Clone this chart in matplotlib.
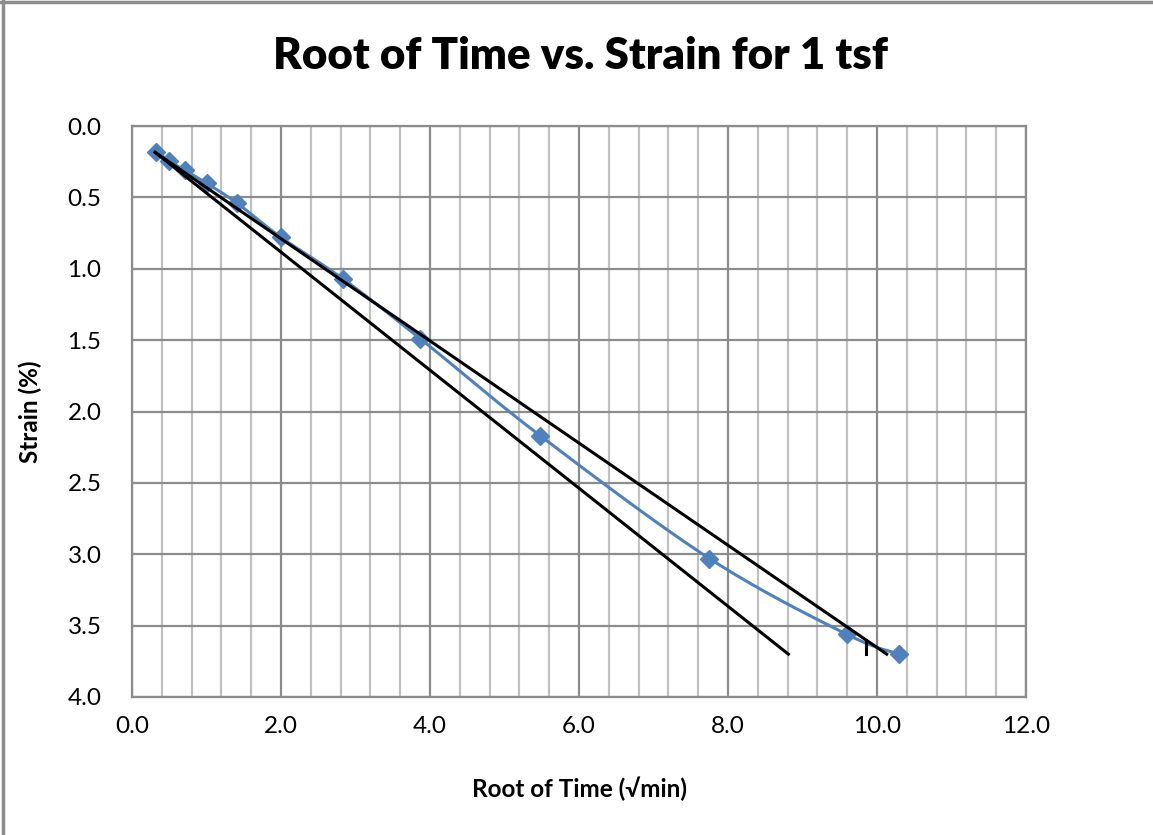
import numpy as np
import matplotlib
matplotlib.use('Agg')
import matplotlib.pyplot as plt
from matplotlib.lines import Line2D

plt.rcParams['font.family'] = ['Lato', 'DejaVu Sans']

# 数据：时间平方根 vs 应变
root_time = [0.32, 0.50, 0.71, 1.00, 1.41, 2.00, 2.83, 3.87, 5.48, 7.75, 9.59, 10.30]
strain = [0.18, 0.245, 0.31, 0.40, 0.54, 0.78, 1.07, 1.49, 2.17, 3.03, 3.56, 3.70]

# 两条切线（Taylor 法）
line1_x = [0.31, 8.81]
line1_y = [0.184, 3.70]
line2_x = [0.31, 10.13]
line2_y = [0.184, 3.70]
tick_x = [9.85, 9.85]
tick_y = [3.60, 3.70]


def smooth_curve(x, y, n=20):
    """Catmull-Rom 平滑（类似 Excel 的平滑线）"""
    pts = np.column_stack([x, y])
    p = np.vstack([pts[0], pts, pts[-1]])
    out = []
    for i in range(1, len(p) - 2):
        p0, p1, p2, p3 = p[i - 1], p[i], p[i + 1], p[i + 2]
        t = np.linspace(0, 1, n)[:, None]
        seg = 0.5 * ((2 * p1) + (-p0 + p2) * t
                     + (2 * p0 - 5 * p1 + 4 * p2 - p3) * t ** 2
                     + (-p0 + 3 * p1 - 3 * p2 + p3) * t ** 3)
        out.append(seg)
    out = np.vstack(out)
    return out[:, 0], out[:, 1]


fig = plt.figure(figsize=(11.53, 8.35), dpi=100)
ax = fig.add_axes([0.1145, 0.1653, 0.7754, 0.6837])

# 网格
for v in np.arange(0, 12.01, 0.4):
    major = abs(v / 2 - round(v / 2)) < 1e-6
    ax.axvline(v, color='#8c8c8c' if major else '#c0c0c0', lw=1.6, zorder=0)
for h in np.arange(0, 4.01, 0.5):
    ax.axhline(h, color='#8c8c8c', lw=1.6, zorder=0)

sx, sy = smooth_curve(root_time, strain)
ax.plot(sx, sy, color='#4F81BD', lw=2.2, zorder=3)
ax.plot(root_time, strain, 'D', color='#4F81BD', ms=9, zorder=4)

ax.plot(line1_x, line1_y, color='black', lw=2.2, zorder=5)
ax.plot(line2_x, line2_y, color='black', lw=2.2, zorder=5)
ax.plot(tick_x, tick_y, color='black', lw=2.2, zorder=5)

ax.set_xlim(0, 12)
ax.set_ylim(4, 0)
ax.set_xticks(np.arange(0, 12.01, 2))
ax.set_xticklabels([f'{v:.1f}' for v in np.arange(0, 12.01, 2)])
ax.set_yticks(np.arange(0, 4.01, 0.5))
ax.set_yticklabels([f'{v:.1f}' for v in np.arange(0, 4.01, 0.5)])
ax.tick_params(axis='both', length=0, labelsize=17.5)
ax.tick_params(axis='x', pad=14)
ax.tick_params(axis='y', pad=22)
for s in ax.spines.values():
    s.set_color('#8c8c8c')
    s.set_linewidth(1.6)

ax.set_xlabel('Root of Time (√min)', fontsize=17.5, fontweight='bold', labelpad=28)
ax.set_ylabel('Strain (%)', fontsize=17.5, fontweight='bold', labelpad=18)

fig.text(0.503, 0.933, 'Root of Time vs. Strain for 1 tsf', ha='center', va='center',
         fontsize=31.5, fontweight='heavy')

# 外框（只有上边和左边）
fig.lines.append(Line2D([0, 1], [0.9975, 0.9975], transform=fig.transFigure,
                        color='#8c8c8c', lw=2.5))
fig.lines.append(Line2D([0.0025, 0.0025], [0, 1], transform=fig.transFigure,
                        color='#8c8c8c', lw=2.5))

fig.savefig('out.png', dpi=100)
